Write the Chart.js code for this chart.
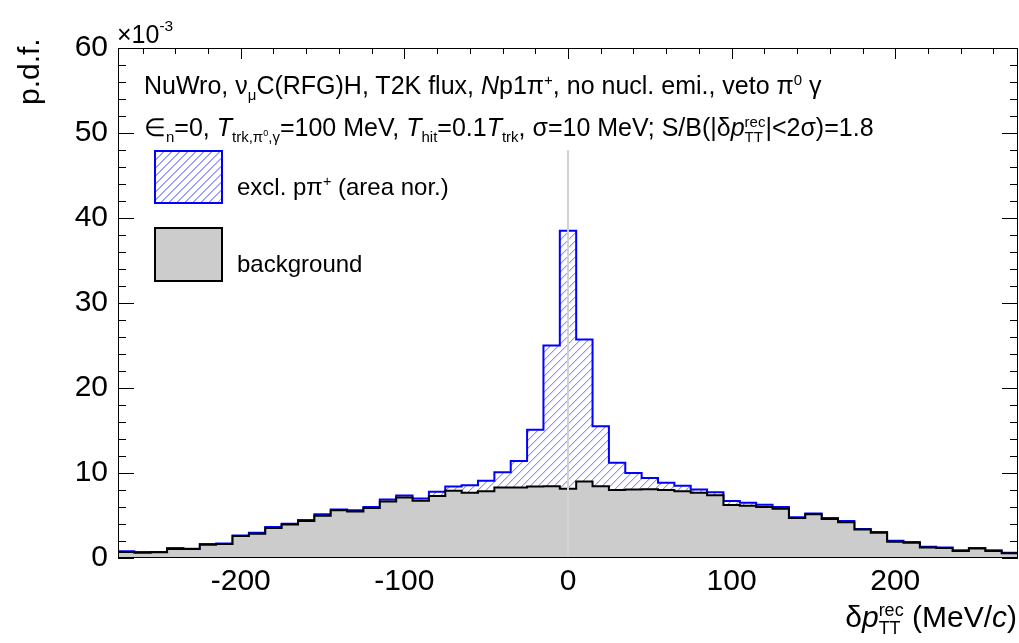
<!DOCTYPE html>
<html>
<head>
<meta charset="utf-8">
<script src="https://cdn.jsdelivr.net/npm/chart.js@4.4.0/dist/chart.umd.min.js"></script>
<style>
  body { margin: 0; background: #fff; }
  #wrap { position: relative; width: 1019px; height: 643px; font-family: "Liberation Sans", Arial, sans-serif; color: #000; }
  #c { position: absolute; left: 0; top: 0; }
  .t { position: absolute; white-space: nowrap; line-height: 1; }
  sub, sup { font-size: 60%; line-height: 0; }
  .ss { display: inline-block; vertical-align: middle; font-size: 60%; line-height: 1; }
  .ss span { display: block; }
  .box { position: absolute; box-sizing: border-box; }
</style>
</head>
<body>
<div id="wrap">
  <canvas id="c" width="1019" height="643"></canvas>

  <div class="t" style="left:144px; top:73px; font-size:25px;">NuWro, ν<sub>μ</sub>C(RFG)H, T2K flux, <i>N</i>p1π<sup>+</sup>, no nucl. emi., veto π<sup>0</sup> γ</div>
  <div class="t" style="left:144px; top:114px; font-size:25px;">∈<sub>n</sub>=0, <i>T</i><sub>trk,π<sup>0</sup>,γ</sub>=100 MeV, <i>T</i><sub>hit</sub>=0.1<i>T</i><sub>trk</sub>, σ=10 MeV; S/B(|δ<i>p</i><span class="ss"><span>rec</span><span>TT</span></span>|&lt;2σ)=1.8</div>

  <div class="box" style="left:154px; top:150px; width:69px; height:54px; border:2px solid #0000ff; background: repeating-linear-gradient(135deg, #fff 0 4.4px, #a4a4ff 4.4px 5.7px);"></div>
  <div class="t" style="left:237px; top:175px; font-size:24px;">excl. pπ<sup>+</sup> (area nor.)</div>
  <div class="box" style="left:154px; top:227px; width:69px; height:55px; border:2px solid #000; background:#cccccc;"></div>
  <div class="t" style="left:237px; top:252px; font-size:24px;">background</div>

  <div class="t" style="left:14px; top:105px; font-size:30px; transform:rotate(-90deg); transform-origin:0 0;">p.d.f.</div>
  <div class="t" style="left:117px; top:22px; font-size:25px;">×10<sup style="font-size:62%; vertical-align:0.75em;">-3</sup></div>
  <div class="t" style="right:2px; top:601px; font-size:30px;">δ<i>p</i><span class="ss"><span>rec</span><span>TT</span></span> (MeV/<i>c</i>)</div>
</div>

<script>
// bin edges of the histograms, MeV/c (10 MeV/c bins, -275..275)
const binEdges = Array.from({ length: 56 }, (_, i) => -275 + 10 * i);

// background, p.d.f. x 1e-3
const bkgValues = [
  0.70, 0.63, 0.68, 1.06, 1.06, 1.56, 1.64, 2.58, 2.86, 3.52,
  3.95, 4.34, 4.97, 5.63, 5.48, 5.87, 6.65, 7.12, 6.73, 7.30,
  7.90, 7.67, 7.86, 8.30, 8.30, 8.40, 8.45, 8.14, 9.00, 8.45,
  8.00, 8.06, 8.10, 8.00, 7.86, 7.67, 7.38, 6.25, 6.15, 6.00,
  5.80, 4.70, 5.16, 4.60, 4.20, 3.36, 2.97, 1.92, 1.80, 1.25,
  1.17, 0.82, 1.13, 0.82, 0.55
];

// excl. p pi+ (area normalised), p.d.f. x 1e-3
const sigValues = [
  0.78, 0.70, 0.72, 1.17, 1.10, 1.64, 1.72, 2.66, 2.97, 3.64,
  4.03, 4.46, 5.16, 5.71, 5.63, 5.99, 6.89, 7.35, 7.00, 7.80,
  8.40, 8.57, 9.08, 10.1, 11.4, 15.1, 25.0, 38.5, 25.7, 15.5,
  11.2, 10.0, 9.40, 8.84, 8.50, 8.06, 7.75, 6.70, 6.50, 6.26,
  6.00, 4.80, 5.24, 4.70, 4.34, 3.40, 3.05, 2.03, 1.88, 1.33,
  1.25, 0.90, 1.17, 0.90, 0.63
];

// marker line at zero
const zeroLineX = [0, 0];
const zeroLineY = [0, 48];

const xTicks = [-200, -100, 0, 100, 200];
const yTicks = [0, 10, 20, 30, 40, 50, 60];

function stepPoints(vals) {
  const pts = vals.map((v, i) => ({ x: binEdges[i], y: v }));
  pts.push({ x: binEdges[vals.length], y: vals[vals.length - 1] });
  return pts;
}

// pale blue "///" hatch, 8 px pitch
function hatch() {
  const n = 16;
  const c = document.createElement('canvas');
  c.width = n; c.height = n;
  const g = c.getContext('2d');
  g.fillStyle = '#ffffff';
  g.fillRect(0, 0, n, n);
  for (let i = 0; i < n; i++) {
    for (const off of [0, 8]) {
      const yy = (n - 1 - i + off) % n;
      g.fillStyle = '#9090ff';
      g.fillRect(i, yy, 1, 1);
      g.fillStyle = '#d4d4ff';
      g.fillRect(i, (yy + 1) % n, 1, 1);
    }
  }
  return g.createPattern(c, 'repeat');
}

// ROOT style frame with inside ticks
const frameTicks = {
  id: 'frameTicks',
  beforeDatasetsDraw(chart) {
    const { ctx, chartArea: a, scales: { x, y } } = chart;
    ctx.save();
    ctx.strokeStyle = '#000';
    ctx.lineWidth = 1;
    ctx.beginPath();
    for (let v = x.min + 15; v <= x.max; v += 20) {
      const px = Math.round(x.getPixelForValue(v)) + 0.5;
      const len = v % 100 === 0 ? 11 : 6;
      ctx.moveTo(px, a.top); ctx.lineTo(px, a.top + len);
      ctx.moveTo(px, a.bottom); ctx.lineTo(px, a.bottom - len);
    }
    for (let v = y.min; v <= y.max; v += 2) {
      const py = Math.round(y.getPixelForValue(v)) + 0.5;
      const len = v % 10 === 0 ? 16 : 8;
      ctx.moveTo(a.left, py); ctx.lineTo(a.left + len, py);
      ctx.moveTo(a.right, py); ctx.lineTo(a.right - len, py);
    }
    ctx.stroke();
    ctx.restore();
  },
  afterDatasetsDraw(chart) {
    const { ctx, chartArea: a } = chart;
    ctx.save();
    ctx.strokeStyle = '#000';
    ctx.lineWidth = 1;
    ctx.strokeRect(a.left + 0.5, a.top + 0.5, a.right - a.left - 1, a.bottom - a.top - 1);
    ctx.restore();
  }
};

const ctx = document.getElementById('c').getContext('2d');
new Chart(ctx, {
  type: 'line',
  data: {
    datasets: [
      {
        label: 'zero',
        data: zeroLineX.map((v, i) => ({ x: v, y: zeroLineY[i] })),
        borderColor: '#d2d2d2',
        borderWidth: 2,
        pointRadius: 0,
        fill: false,
      },
      {
        label: 'background',
        data: stepPoints(bkgValues),
        stepped: 'before',
        borderColor: '#000',
        borderWidth: 2,
        backgroundColor: '#cccccc',
        pointRadius: 0,
        fill: 'origin',
      },
      {
        label: 'excl. p\u03c0+ (area nor.)',
        data: stepPoints(sigValues),
        stepped: 'before',
        borderColor: '#0000ff',
        borderWidth: 2,
        backgroundColor: hatch(),
        pointRadius: 0,
        fill: 'origin',
      }
    ]
  },
  options: {
    responsive: false,
    animation: false,
    devicePixelRatio: 1,
    layout: { padding: { top: 48, right: 1, left: 0, bottom: 0 } },
    plugins: { legend: { display: false }, tooltip: { enabled: false } },
    scales: {
      x: {
        type: 'linear',
        min: -275,
        max: 275,
        afterBuildTicks: s => { s.ticks = xTicks.map(v => ({ value: v })); },
        afterFit: s => { s.height = 85; },
        grid: { display: false, drawTicks: false },
        border: { display: false },
        ticks: { color: '#000', padding: 6, maxRotation: 0, font: { family: 'Liberation Sans', size: 30 } }
      },
      y: {
        min: 0,
        max: 60,
        afterBuildTicks: s => { s.ticks = yTicks.map(v => ({ value: v })); },
        afterFit: s => { s.width = 118; },
        grid: { display: false, drawTicks: false },
        border: { display: false },
        ticks: { color: '#000', padding: 10, font: { family: 'Liberation Sans', size: 30 } }
      }
    }
  },
  plugins: [frameTicks]
});
</script>
</body>
</html>
